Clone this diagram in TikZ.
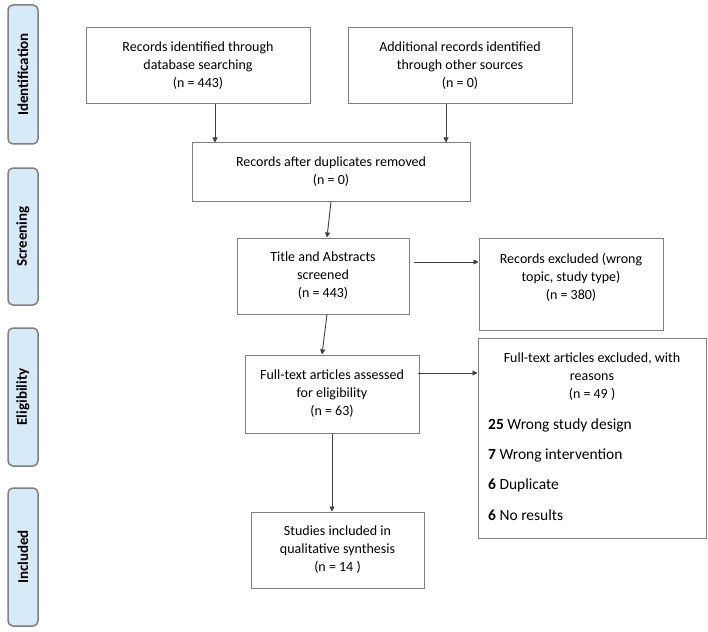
\documentclass[tikz,border=0pt]{standalone}
\usepackage{fontspec}
\setmainfont{Carlito}
\usepackage{tikz}
\usetikzlibrary{arrows.meta}

\definecolor{phaseblue}{RGB}{214,234,248}
\definecolor{boxgray}{RGB}{128,128,128}

\tikzset{
    box/.style = {draw=boxgray, line width=1pt, align=center, inner sep=0pt,
                  font = {\fontsize{14}{18}\selectfont}},
    txt/.style = {align=center, inner sep=0pt, font = {\fontsize{14}{18}\selectfont}},
    item/.style = {anchor=west, inner sep=0pt, font = {\fontsize{15.5}{18}\selectfont}},
    phase/.style = {draw=boxgray, line width=1.5pt, rounded corners=5pt, fill=phaseblue,
                    minimum height=30pt, rotate=90, inner sep=0pt,
                    font = {\fontsize{15}{18}\selectfont\bfseries}},
    arr/.style = {draw=black!75, line width=0.9pt, -{Triangle[length=5pt,width=5pt]}},
}

\begin{document}
\begin{tikzpicture}[x=1pt, y=-1pt]
        \useasboundingbox (0,0) rectangle (708,631);

        % phases on the left
        \node[phase, minimum width=139pt] (ident) at (23,74.5) {Identification};
        \node[phase, minimum width=137pt] (screen) at (23,236.5) {Screening};
        \node[phase, minimum width=138pt] (elig) at (23,397) {Eligibility};
        \node[phase, minimum width=138pt] (incl) at (23,557) {Included};

        % flow boxes
        \node[box, minimum width=224pt, minimum height=76pt] (db) at (198,66) {Records identified through\\database searching\\(n = 443)};
        \node[box, minimum width=224pt, minimum height=76pt] (other) at (460,66) {Additional records identified\\through other sources\\(n = 0)};
        \node[box, minimum width=278pt, minimum height=58pt] (dup) at (331,172) {Records after duplicates removed\\(n = 0)};
        \node[box, minimum width=172pt, minimum height=76pt] (title) at (323,276) {Title and Abstracts\\screened\\(n = 443)};
        \node[box, minimum width=184pt, minimum height=92pt] (excl) at (571,284) {};
        \node[txt] (excl-txt) at (571,277) {Records excluded (wrong\\topic, study type)\\(n = 380)};
        \node[box, minimum width=174pt, minimum height=78pt] (fta) at (332,394) {Full-text articles assessed\\for eligibility\\(n = 63)};
        \node[box, minimum width=228pt, minimum height=200pt] (rsn) at (592,438) {};
        \node[txt] (rsn-txt) at (592,377) {Full-text articles excluded, with\\reasons\\(n = 49 )};
        \node[item] (r1) at (488,425) {\textbf{25} Wrong study design};
        \node[item] (r2) at (488,455) {\textbf{7} Wrong intervention};
        \node[item] (r3) at (488,485) {\textbf{6} Duplicate};
        \node[item] (r4) at (488,515) {\textbf{6} No results};
        \node[box, minimum width=173pt, minimum height=76pt] (study) at (337.5,550) {Studies included in\\qualitative synthesis\\(n = 14 )};

        % arrows
        \draw[arr] ([xshift=17pt]db.south) -- ([xshift=17pt]db.south |- dup.north);
        \draw[arr] ([xshift=-14pt]other.south) -- ([xshift=-14pt]other.south |- dup.north);
        \draw[arr] (dup.south) -- ([xshift=4pt]title.north);
        \draw[arr] (title.east) ++(4,-14) coordinate (t1) -- (t1 -| excl.west);
        \draw[arr] ([xshift=4pt]title.south) -- ([xshift=-10pt]fta.north);
        \draw[arr] (fta.east) ++(-2,-21) coordinate (f1) -- (f1 -| rsn.west);
        \draw[arr] (fta.south) -- (fta.south |- study.north);
\end{tikzpicture}
\end{document}
